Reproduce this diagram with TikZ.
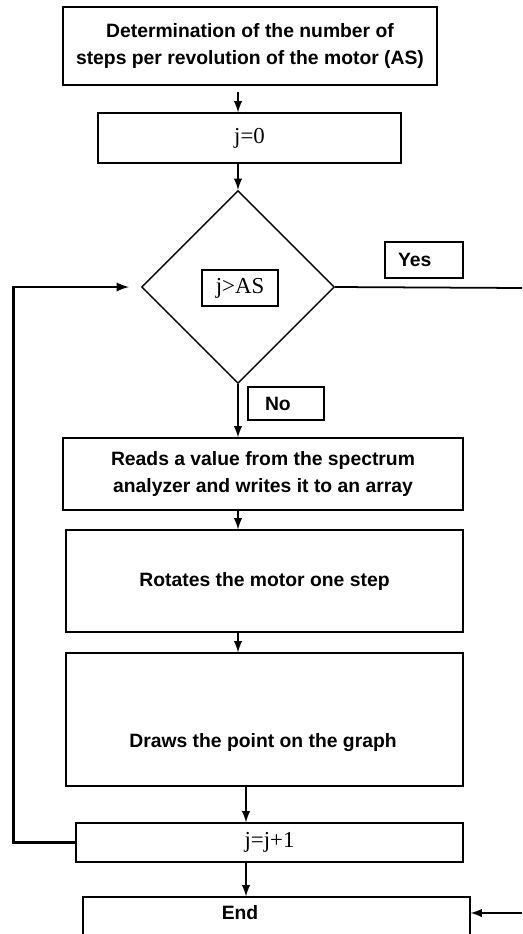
\documentclass[tikz,border=0pt]{standalone}
\usepackage{fontspec}
\setmainfont{Liberation Serif}
\setsansfont{Liberation Sans}
\usetikzlibrary{shapes.geometric}

\tikzset{
  box/.style={draw, line width=0.8pt, inner sep=0pt, align=center,
    font=\sffamily\bfseries\fontsize{11}{15.4}\selectfont},
  serifbox/.style={box, font=\fontsize{13}{15}\selectfont},
  tagbox/.style={box, align=left, inner ysep=0pt, minimum height=0.72cm},
  arr/.style={line width=1.2pt, -latex},
}

\begin{document}
\begin{tikzpicture}[x=0.02cm, y=-0.02cm]
    \useasboundingbox (0,0) rectangle (522,934);
    \coordinate (midx) at (246,0);
    \coordinate (yesend) at (522,288);
    \coordinate (endin) at (522,913);
    \node[box, minimum width=7.48cm, minimum height=1.56cm] (det) at (250,46)
      {Determination of the number of\\steps per revolution of the motor (AS)};
    \node[serifbox, minimum width=6.06cm, minimum height=1cm] (init) at (249.5,138) {j=0};
    \node[draw, diamond, aspect=1, line width=0.8pt, inner sep=0pt,
      minimum width=3.86cm, minimum height=3.86cm] (dec) at (238,287) {};
    \node[serifbox, minimum width=1.52cm, minimum height=0.72cm] (cond) at (240,288) {j>AS};
    \node[tagbox, inner xsep=0.26cm, text width=1.04cm] (yes) at (424,260) {Yes};
    \node[tagbox, inner xsep=0.34cm, text width=0.84cm, minimum height=0.66cm] (no) at (286,403.5) {No};
    \node[box, minimum width=8cm, minimum height=1.44cm] (reads) at (263,474)
      {Reads a value from the spectrum\\analyzer and writes it to an array};
    \node[box, minimum width=7.94cm, minimum height=2.04cm] (rot) at (264.5,581)
      {Rotates the motor one step};
    \node[box, minimum width=7.94cm, minimum height=2.66cm] (draws) at (264.5,719.5) {};
    \node[box, draw=none] (drawstxt) at (263,743) {Draws the point on the graph};
    \node[serifbox, minimum width=7.74cm, minimum height=0.78cm] (incr) at (269.5,842.5) {j=j+1};
    \node[box, minimum width=7.74cm, minimum height=0.92cm] (endbox) at (276.5,920) {};
    \node[box, draw=none] (endtxt) at (240,913) {End};
      \draw[arr] (det.south -| dec.north) ++(0,6) -- (init.north -| dec.north);
      \draw[arr] (init.south -| dec.north) -- (dec.north);
      \draw[arr] (dec.south) -- (reads.north -| dec.south);
      \draw[arr] (reads.south -| dec.south) -- (rot.north -| dec.south);
      \draw[arr] (rot.south -| dec.south) -- (draws.north -| dec.south);
      \draw[arr] (draws.south -| midx) -- (incr.north -| midx);
      \draw[arr] (incr.south -| midx) -- (endbox.north -| midx);
      \draw[line width=1.4pt, -latex] (incr.west) -- ++(-62,0)
        |- ([xshift=-0.24cm]dec.west);
      \draw[line width=1pt] (dec.east) -- (yesend);
      \draw[arr] (endin) -- (endin -| endbox.east);
  \end{tikzpicture}
\end{document}
